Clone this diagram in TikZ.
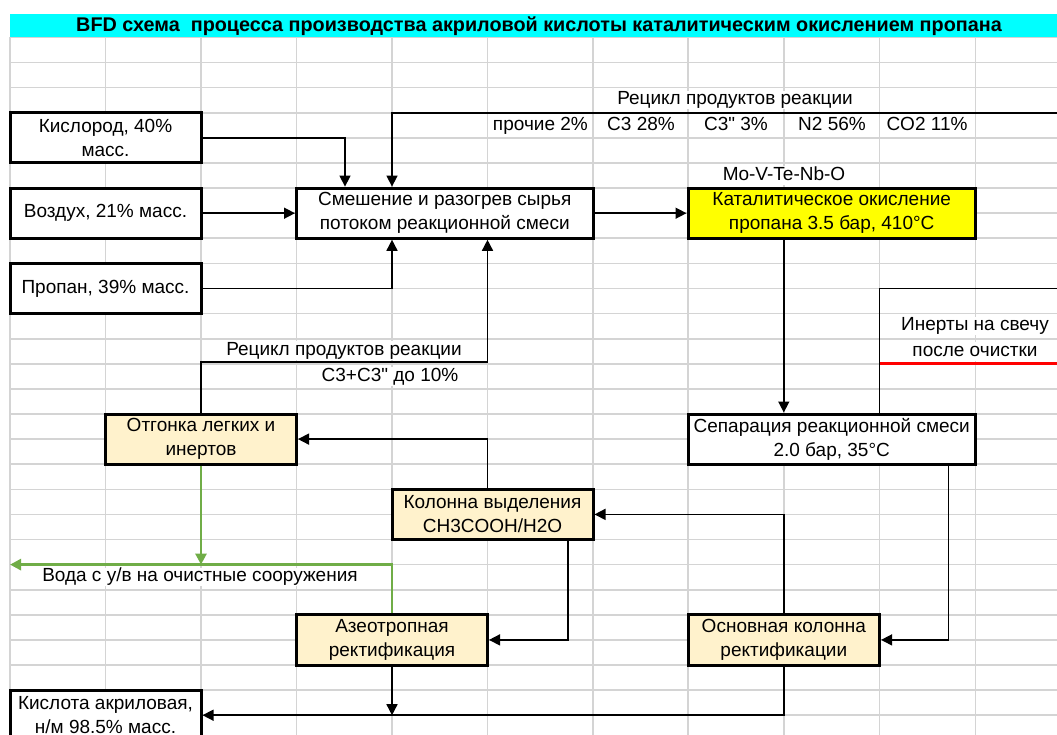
\documentclass[tikz,border=0pt]{standalone}
\usepackage{fontspec}
\setmainfont{Liberation Sans}
\usepackage{xcolor}
\usetikzlibrary{arrows.meta,positioning}
\definecolor{GridGray}{HTML}{D4D4D4}
\definecolor{TitleCyan}{HTML}{00FFFF}
\definecolor{ReactorYellow}{HTML}{FFFF00}
\definecolor{UnitCream}{HTML}{FFF2CC}
\definecolor{WaterGreen}{HTML}{70AD47}
\definecolor{VentRed}{HTML}{FF0000}
\tikzset{
  gridline/.style={GridGray,line width=1.6pt},
  unit/.style={draw=black,line width=3pt,fill=white,minimum height=50.2pt,inner sep=0pt,align=center,font=\fontsize{19}{24}\selectfont},
  cell/.style={fill=white,inner xsep=1pt,inner ysep=0pt,text height=14pt,text depth=4.5pt,font=\fontsize{19}{21}\selectfont},
  flow/.style={black,line width=1.5pt,-{Triangle[length=11pt,width=11pt]}},
  water/.style={WaterGreen,line width=2.6pt,-{Triangle[length=11pt,width=11pt]}},
}
\begin{document}
\begin{tikzpicture}[x=1pt,y=-1pt]
\useasboundingbox (0,0) rectangle (1057,735);
\clip (0,0) rectangle (1057,735);
\fill[TitleCyan] (10,14) rectangle (1057,37.5);
\foreach \gx in {10,105.5,201,296.5,392,487.5,593,688,784,879.5,975.4}
  \draw[gridline] (\gx,37.5) -- (\gx,735);
\foreach \gk in {0,...,27}
  \draw[gridline] (10,{37.5+25.1*\gk}) -- (1057,{37.5+25.1*\gk});
\node[font=\bfseries\fontsize{19.8}{22}\selectfont] (title) at (539,26) {BFD схема~ процесса производства акриловой кислоты каталитическим окислением пропана};
% labels
\node[cell] (rectoplbl) at (735,100.25) {Рецикл продуктов реакции};
\node[cell,anchor=east] (other) at (589,125.35) {прочие 2\%};
\node[cell] (cthree) at (641,125.35) {C3 28\%};
\node[cell] (cthreeu) at (736,125.35) {C3\textquotedbl{} 3\%};
\node[cell] (ntwo) at (832,125.35) {N2 56\%};
\node[cell] (cotwo) at (927,125.35) {CO2 11\%};
\node[cell] (catlbl) at (784,175.55) {Mo-V-Te-Nb-O};
\node[cell] (ventlbla) at (975,326.15) {Инерты на свечу};
\node[cell] (ventlblb) at (975,351.25) {после очистки};
\node[cell] (recmidlbl) at (344,350.5) {Рецикл продуктов реакции};
\node[cell] (recmidlblb) at (390,376.35) {C3+C3\textquotedbl{} до 10\%};
\node[cell] (waterlbl) at (200,577.15) {Вода с у/в на очистные сооружения};
% connectors
\coordinate (rectop) at (1057,112.8);
\coordinate (vent) at (1057,288.5);
\coordinate (ventbend) at (879.5,288.5);
\coordinate (ventred) at (1057,363.5);
\coordinate (recmid) at (487.5,362);
\coordinate (waterout) at (10,564.6);
% units
\node[unit,minimum width=191pt] (kisl) at (105.5,137.9) {Кислород, 40\%\\масс.};
\node[unit,minimum width=191pt] (vozd) at (105.5,213.2) {Воздух, 21\% масс.};
\node[unit,minimum width=191pt] (prop) at (105.5,288.5) {Пропан, 39\% масс.};
\node[unit,minimum width=296.5pt] (smesh) at (444.75,213.2) {Смешение и разогрев сырья\\потоком реакционной смеси};
\node[unit,minimum width=287.4pt,fill=ReactorYellow] (katal) at (831.7,213.2) {Каталитическое окисление\\пропана 3.5 бар, 410°C};
\node[unit,minimum width=287.4pt] (separ) at (831.7,439.1) {Сепарация реакционной смеси\\2.0 бар, 35°C};
\node[unit,minimum width=191pt,fill=UnitCream] (otgon) at (201,439.1) {Отгонка легких и\\инертов};
\node[unit,minimum width=201pt,fill=UnitCream] (koldel) at (492.5,514.4) {Колонна выделения\\CH3COOH/H2O};
\node[unit,minimum width=191pt,fill=UnitCream] (azeo) at (392,639.9) {Азеотропная\\ректификация};
\node[unit,minimum width=191.5pt,fill=UnitCream] (osn) at (783.8,639.9) {Основная колонна\\ректификации};
\node[unit,minimum width=191pt] (acid) at (105.5,715.2) {Кислота акриловая,\\н/м 98.5\% масс.};
\draw[flow] (kisl.east) -| ([xshift=-99.75pt]smesh.north);
\draw[flow] (vozd.east) -- (smesh.west);
\draw[flow] (prop.east) -| ([xshift=-52.75pt]smesh.south);
\draw[flow] (rectop) -| ([xshift=-52.75pt]smesh.north);
\draw[flow] (smesh.east) -- (katal.west);
\draw[flow] (katal.south -| osn.north) -- (separ.north -| osn.north);
\draw[black,line width=1.5pt] (vent) -- (ventbend) -- (ventbend |- separ.north);
\draw[VentRed,line width=2.8pt] (ventred) -- (ventred -| ventbend);
\draw[flow] ([xshift=116.8pt]separ.south) |- (osn.east);
\draw[flow] (osn.north) |- (koldel.east);
\draw[flow] ([xshift=-5pt]koldel.north) |- (otgon.east);
\draw[flow] (otgon.north) |- (recmid) -- (recmid |- smesh.south);
\draw[flow] ([xshift=75.5pt]koldel.south) |- (azeo.east);
\draw[water] (azeo.north) |- (waterout);
\draw[water] (otgon.south) -- (otgon.south |- waterout);
\draw[flow] (azeo.south) -- (azeo.south |- acid.east);
\draw[flow] (osn.south) |- (acid.east);
\end{tikzpicture}
\end{document}
